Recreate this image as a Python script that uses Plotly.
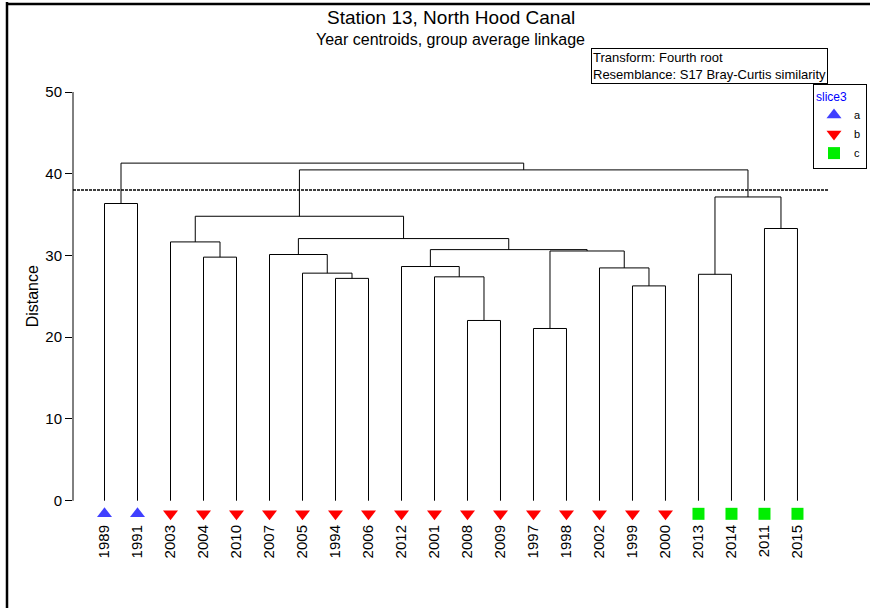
import plotly.graph_objects as go

# ---------------- data ----------------
leaves = ["1989", "1991", "2003", "2004", "2010", "2007", "2005", "1994", "2006",
          "2012", "2001", "2008", "2009", "1997", "1998", "2002", "1999", "2000",
          "2013", "2014", "2011", "2015"]
groups = ["a", "a", "b", "b", "b", "b", "b", "b", "b", "b", "b", "b", "b", "b",
          "b", "b", "b", "b", "c", "c", "c", "c"]

# merges (group average linkage): left child, right child, distance
merge_names = ["m0", "m1", "m2", "m3", "m4", "m5", "m6", "m7", "m8", "m9", "m10",
               "m11", "m12", "m13", "m14", "m15", "m16", "m17", "m18", "m19", "m20"]
merge_left = ["2008", "1997", "1999", "1994", "2001", "2013", "2005", "2002", "2012",
              "2004", "2007", "m1", "m8", "2003", "m10", "2011", "m13", "1989",
              "m5", "m16", "m17"]
merge_right = ["2009", "1998", "2000", "2006", "m0", "2014", "m3", "m2", "m4",
               "2010", "m6", "m7", "m11", "m9", "m12", "2015", "m14", "1991",
               "m15", "m18", "m19"]
merge_height = [22.05, 21.07, 26.28, 27.2, 27.39, 27.7, 27.84, 28.48, 28.65,
                29.8, 30.12, 30.55, 30.72, 31.66, 32.07, 33.3, 34.8, 36.36,
                37.16, 40.47, 41.3]

cut_distance = 38.0
y_ticks = [0, 10, 20, 30, 40, 50]

group_names = ["a", "b", "c"]
group_colors = ["#4040ff", "#ff0000", "#00ee00"]
group_symbols = ["triangle-up", "triangle-down", "square"]

# ---------------- layout constants ----------------
W, H = 870, 608
ML, MR, MT, MB = 73, 42, 92, 87
PW, PH = W - ML - MR, H - MT - MB
FONT = "Liberation Sans, Arial, sans-serif"
Y_MIN, Y_MAX = -2.48, 50
X_MIN, X_MAX = -0.955, 21.925
MARKER_Y = -1.6


def px_x(px):
    return (px - ML) / PW


def px_y(py):
    return (H - MB - py) / PH


# ---------------- dendrogram geometry ----------------
pos = {name: (i, 0.0) for i, name in enumerate(leaves)}
lx, ly = [], []
for name, a, b, h in zip(merge_names, merge_left, merge_right, merge_height):
    xa, ha = pos[a]
    xb, hb = pos[b]
    lx += [xa, xa, xb, xb, None]
    ly += [ha, h, h, hb, None]
    pos[name] = ((xa + xb) / 2, h)

fig = go.Figure()
fig.add_trace(go.Scatter(x=lx, y=ly, mode="lines",
                         line=dict(color="black", width=1),
                         hoverinfo="skip", showlegend=False))

for g, col, sym in zip(group_names, group_colors, group_symbols):
    xs = [i for i, gg in enumerate(groups) if gg == g]
    fig.add_trace(go.Scatter(
        x=xs, y=[MARKER_Y] * len(xs), mode="markers", name=g,
        marker=dict(color=col, symbol=sym, size=12 if sym == "square" else 13,
                    line=dict(width=0)),
        cliponaxis=False))

shapes = [
    # y axis line from 0 to 50
    dict(type="line", xref="paper", yref="y", x0=0, x1=0, y0=0, y1=50,
         line=dict(color="black", width=1)),
    # cut-off line
    dict(type="line", xref="paper", yref="y", x0=0, x1=1,
         y0=cut_distance, y1=cut_distance,
         line=dict(color="black", width=1.5, dash="3px,1px")),
    # outer frame (left and top)
    dict(type="line", xref="paper", yref="paper", x0=px_x(7), x1=px_x(7),
         y0=px_y(2), y1=px_y(H + 20), line=dict(color="black", width=2.5)),
    dict(type="line", xref="paper", yref="paper", x0=px_x(6), x1=px_x(W + 20),
         y0=px_y(4), y1=px_y(4), line=dict(color="black", width=2.5)),
]

annotations = [
    dict(text="Station 13, North Hood Canal", xref="paper", yref="paper",
         x=0.5, y=px_y(17), xanchor="center", yanchor="middle", showarrow=False,
         font=dict(family=FONT, size=19, color="black")),
    dict(text="Year centroids, group average linkage", xref="paper", yref="paper",
         x=0.5, y=px_y(39), xanchor="center", yanchor="middle", showarrow=False,
         font=dict(family=FONT, size=16, color="black")),
    dict(text="Transform: Fourth root<br>Resemblance: S17 Bray-Curtis similarity",
         xref="paper", yref="paper", x=1, y=px_y(48), xanchor="right",
         yanchor="top", align="left", showarrow=False,
         font=dict(family=FONT, size=13, color="black"),
         bordercolor="black", borderwidth=1, borderpad=1, bgcolor="white"),
    dict(text="Distance", xref="paper", yref="y", x=px_x(32), y=25,
         xanchor="center", yanchor="middle", textangle=-90, showarrow=False,
         font=dict(family=FONT, size=16, color="black")),
]

fig.update_layout(
    width=W, height=H,
    margin=dict(l=ML, r=MR, t=MT, b=MB, autoexpand=False),
    paper_bgcolor="white", plot_bgcolor="white",
    font=dict(family=FONT, color="black"),
    xaxis=dict(range=[X_MIN, X_MAX], tickvals=list(range(len(leaves))),
               ticktext=leaves, tickangle=-90, ticks="", showgrid=False,
               zeroline=False, showline=False,
               tickfont=dict(family=FONT, size=15, color="black")),
    yaxis=dict(range=[Y_MIN, Y_MAX], tickvals=y_ticks, ticks="outside",
               ticklen=7, tickcolor="black", tickwidth=1, showgrid=False,
               zeroline=False, showline=False,
               tickfont=dict(family=FONT, size=15, color="black")),
    legend=dict(x=px_x(813), y=px_y(84), xanchor="left", yanchor="top",
                bordercolor="black", borderwidth=1, bgcolor="white",
                itemwidth=30, tracegroupgap=0,
                font=dict(family=FONT, size=11, color="black"),
                title=dict(text="slice3",
                           font=dict(family=FONT, size=12, color="#0000ff"))),
    shapes=shapes, annotations=annotations,
    showlegend=True,
)

fig.write_html("out.html", config={"displayModeBar": False},
               post_script="document.body.style.margin='0px';")
